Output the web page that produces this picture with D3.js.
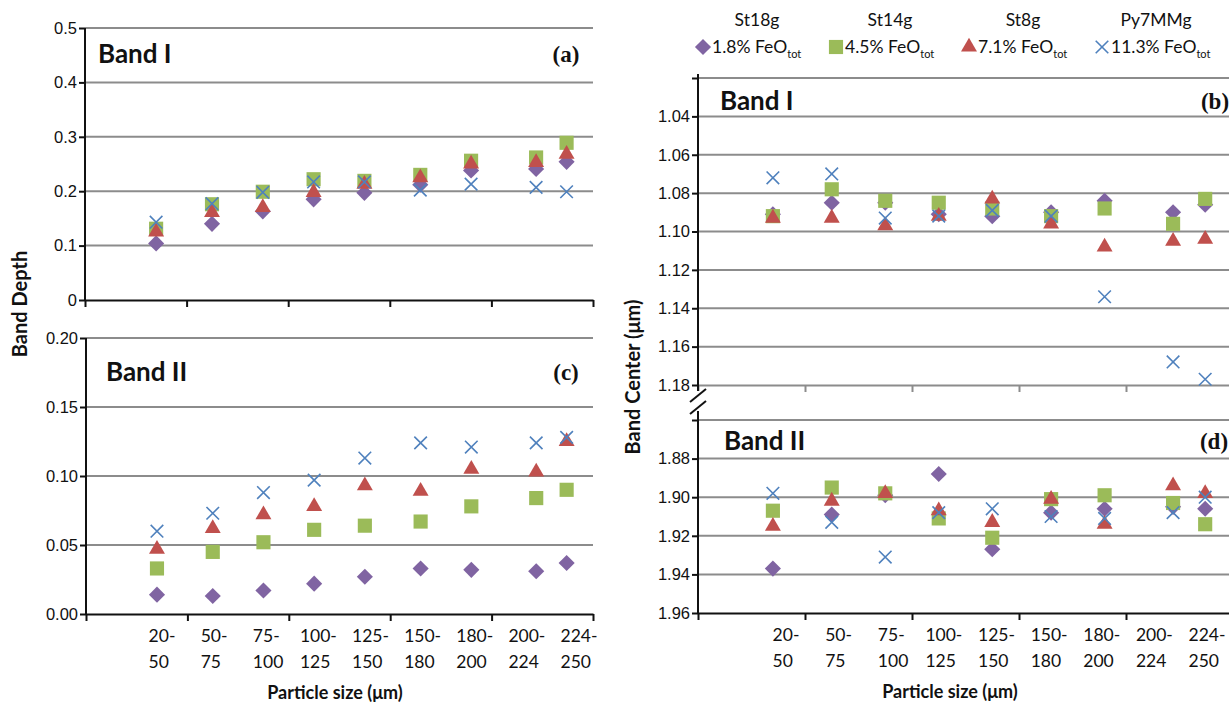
<!DOCTYPE html>
<html>
<head>
<meta charset="utf-8">
<script src="https://cdn.jsdelivr.net/npm/d3@7"></script>
<style>
  body { margin: 0; background: #fff; }
  svg { display: block; font-family: Lato, "Open Sans", sans-serif; }
</style>
</head>
<body>
<svg id="chart" width="1229" height="702"></svg>
<script>

// particle size classes (µm) and where each is plotted on the 0-250 axis
const sizeLabels = [["20-","50"],["50-","75"],["75-","100"],["100-","125"],["125-","150"],
                    ["150-","180"],["180-","200"],["200-","224"],["224-","250"]]
const sizeX  = [35, 62.5, 87.5, 112.5, 137.5, 165, 190, 222, 237]

const seriesNames = ["St18g", "St14g", "St8g", "Py7MMg"]
const feoLabels   = ["1.8%", "4.5%", "7.1%", "11.3%"]
const colors = ["#8064A2", "#9BBB59", "#C0504D", "#4F81BD"]
const shapes = ["diamond", "square", "triangle", "cross"]

// (a) Band I depth, one row per series
const bandIDepth = [
  [0.104, 0.140, 0.163, 0.185, 0.197, 0.212, 0.238, 0.241, 0.254],
  [0.131, 0.176, 0.199, 0.222, 0.219, 0.230, 0.256, 0.262, 0.289],
  [0.125, 0.161, 0.170, 0.198, 0.213, 0.225, 0.250, 0.253, 0.268],
  [0.143, 0.177, 0.198, 0.217, 0.217, 0.202, 0.213, 0.207, 0.199]
]
// (c) Band II depth
const bandIIDepth = [
  [0.014, 0.013, 0.017, 0.022, 0.027, 0.033, 0.032, 0.031, 0.037],
  [0.033, 0.045, 0.052, 0.061, 0.064, 0.067, 0.078, 0.084, 0.090],
  [0.047, 0.062, 0.072, 0.078, 0.093, 0.089, 0.105, 0.103, 0.125],
  [0.060, 0.073, 0.088, 0.097, 0.113, 0.124, 0.121, 0.124, 0.128]
]
// (b) Band I center (µm)
const bandICenter = [
  [1.091, 1.085, 1.085, 1.091, 1.092, 1.090, 1.084, 1.090, 1.086],
  [1.092, 1.078, 1.084, 1.085, 1.088, 1.092, 1.088, 1.096, 1.083],
  [1.093, 1.093, 1.097, 1.092, 1.083, 1.096, 1.108, 1.105, 1.104],
  [1.072, 1.070, 1.093, 1.092, 1.089, 1.092, 1.134, 1.168, 1.177]
]
// (d) Band II center (µm)
const bandIICenter = [
  [1.937, 1.909, 1.899, 1.888, 1.927, 1.908, 1.906, 1.905, 1.906],
  [1.907, 1.895, 1.898, 1.911, 1.921, 1.901, 1.899, 1.903, 1.914],
  [1.915, 1.902, 1.898, 1.907, 1.913, 1.901, 1.914, 1.894, 1.898],
  [1.898, 1.913, 1.931, 1.908, 1.906, 1.910, 1.911, 1.908, 1.900]
]

const svg = d3.select("#chart")
const ink = "#111"
const gridColor = "#8c8c8c"

function marker(shape) {
  if (shape === "diamond") return d3.symbol(d3.symbolSquare, 130)()
  if (shape === "square") return d3.symbol(d3.symbolSquare, 200)()
  if (shape === "triangle") return d3.symbol(d3.symbolTriangle, 110)()
  return d3.symbol(d3.symbolX, 105)()
}

function drawMarker(sel, i) {
  sel.attr("d", marker(shapes[i]))
  if (shapes[i] === "cross") {
    sel.attr("fill", "none").attr("stroke", colors[i]).attr("stroke-width", 1.6)
  } else {
    sel.attr("fill", colors[i])
  }
}

function panel(o) {
  const x = d3.scaleLinear().domain([0, 250]).range([o.left, o.right])
  const y = d3.scaleLinear().domain(o.yDomain)
    .range(o.reversed ? [o.top, o.bottom] : [o.bottom, o.top])
  const g = svg.append("g")

  g.selectAll("line.grid").data(o.grid).join("line")
    .attr("class", "grid")
    .attr("x1", o.left).attr("x2", o.right)
    .attr("y1", d => y(d)).attr("y2", d => y(d))
    .attr("stroke", gridColor).attr("stroke-width", 2)

  const ya = g.append("g").attr("transform", `translate(${o.left},0)`)
    .call(d3.axisLeft(y).tickValues(o.yTicks).tickFormat(o.fmt)
      .tickSize(6).tickSizeOuter(0).tickPadding(2))
  ya.select(".domain").remove()
  ya.selectAll(".tick line").attr("stroke", ink).attr("stroke-width", 2)
  ya.selectAll(".tick text").attr("fill", ink).attr("font-size", 16.5)

  const xa = g.append("g").attr("transform", `translate(0,${o.xAxisY})`)
    .call(d3.axisBottom(x).tickValues([0, 50, 100, 150, 200, 250])
      .tickFormat("").tickSize(7).tickSizeOuter(0))
  xa.select(".domain").attr("stroke", o.xAxisColor).attr("stroke-width", 2)
  xa.selectAll(".tick line").attr("stroke", o.xAxisColor).attr("stroke-width", 2)

  // y axis line
  g.append("line")
    .attr("x1", o.left).attr("x2", o.left)
    .attr("y1", o.axisTop).attr("y2", o.axisBottom)
    .attr("stroke", ink).attr("stroke-width", 2)

  o.data.forEach((vals, i) => {
    g.selectAll(null).data(vals).join("path")
      .attr("transform", (d, j) => `translate(${x(sizeX[j])},${y(d)})` +
        (shapes[i] === "diamond" ? " rotate(45)" : ""))
      .call(drawMarker, i)
  })

  g.append("text").attr("x", o.left + o.bandDx).attr("y", o.top + o.bandDy)
    .attr("font-size", 26).attr("font-weight", 700).attr("fill", ink)
    .text(o.band)
  g.append("text").attr("x", o.tagX).attr("y", o.top + o.bandDy - 1)
    .attr("text-anchor", "middle")
    .attr("font-family", "Liberation Serif, serif").attr("font-weight", 700)
    .attr("font-size", 23).attr("fill", ink)
    .text(o.tag)

  if (o.labelRange) {
    // size class labels sit evenly spaced under the axis, second line left-aligned to the first
    const lx = d3.scalePoint().domain(d3.range(sizeLabels.length)).range(o.labelRange)
    sizeLabels.forEach((d, j) => {
      const t1 = g.append("text").attr("x", lx(j)).attr("y", o.xAxisY + 28)
        .attr("text-anchor", "middle").attr("font-size", 17.5).attr("fill", ink).text(d[0])
      const w = t1.node().getComputedTextLength()
      g.append("text").attr("x", lx(j) - w / 2).attr("y", o.xAxisY + 54)
        .attr("font-size", 17.5).attr("fill", ink).text(d[1])
    })
    g.append("text").attr("x", o.titleX).attr("y", o.xAxisY + 85)
      .attr("text-anchor", "middle").attr("font-size", 18).attr("font-weight", 700)
      .attr("fill", ink).text("Particle size (\u03bcm)")
  }
}

const f1 = v => v === 0 ? "0" : d3.format(".1f")(v)
const f2 = d3.format(".2f")

panel({ left: 85, right: 593, top: 28, bottom: 300, xAxisY: 300, xAxisColor: ink,
  axisTop: 28, axisBottom: 300,
  yDomain: [0, 0.5], yTicks: [0, 0.1, 0.2, 0.3, 0.4, 0.5], grid: [0.1, 0.2, 0.3, 0.4, 0.5],
  fmt: f1, data: bandIDepth, band: "Band I", tag: "(a)", tagX: 566, bandDx: 13, bandDy: 35 })

panel({ left: 86, right: 593, top: 338, bottom: 614, xAxisY: 614, xAxisColor: ink,
  axisTop: 338, axisBottom: 614,
  yDomain: [0, 0.2], yTicks: [0, 0.05, 0.1, 0.15, 0.2], grid: [0.05, 0.1, 0.15, 0.2],
  fmt: f2, data: bandIIDepth, band: "Band II", tag: "(c)", tagX: 566, bandDx: 20, bandDy: 43,
  labelRange: [162, 579], titleX: 335 })

panel({ left: 698, right: 1233, top: 78, bottom: 385, xAxisY: 385, xAxisColor: gridColor,
  axisTop: 74, axisBottom: 420, reversed: true,
  yDomain: [1.02, 1.18], yTicks: d3.range(1.02, 1.181, 0.02), grid: d3.range(1.02, 1.17, 0.02),
  fmt: v => v < 1.03 ? "" : f2(v), data: bandICenter, band: "Band I", tag: "(b)", tagX: 1215,
  bandDx: 22, bandDy: 32 })

panel({ left: 698, right: 1233, top: 420, bottom: 613, xAxisY: 613, xAxisColor: ink,
  axisTop: 385, axisBottom: 613, reversed: true,
  yDomain: [1.86, 1.96], yTicks: d3.range(1.86, 1.961, 0.02), grid: d3.range(1.86, 1.95, 0.02),
  fmt: v => v < 1.87 ? "" : f2(v), data: bandIICenter, band: "Band II", tag: "(d)", tagX: 1214,
  bandDx: 26, bandDy: 30, labelRange: [786, 1207], titleX: 950 })

// axis break between (b) and (d)
svg.append("rect").attr("x", 690).attr("y", 391).attr("width", 16).attr("height", 20).attr("fill", "#fff")
;[[392, 399], [404, 411]].forEach(([a, b]) => {
  svg.append("line").attr("x1", 690).attr("y1", b + 3).attr("x2", 706).attr("y2", a - 3)
    .attr("stroke", ink).attr("stroke-width", 2)
})

// y axis titles
svg.append("text").attr("transform", "translate(27,304) rotate(-90)")
  .attr("text-anchor", "middle").attr("font-size", 20).attr("font-weight", 700).attr("fill", ink)
  .text("Band Depth")
svg.append("text").attr("transform", "translate(640,377) rotate(-90)")
  .attr("text-anchor", "middle").attr("font-size", 20).attr("font-weight", 700).attr("fill", ink)
  .text("Band Center (\u03bcm)")

// legend
const lg = svg.append("g")
seriesNames.forEach((name, i) => {
  const mx = 703 + i * 133
  lg.append("text").attr("x", mx + 54).attr("y", 26).attr("text-anchor", "middle")
    .attr("font-size", 17.5).attr("fill", ink).text(name)
  lg.append("path")
    .attr("transform", `translate(${mx},${47})` + (shapes[i] === "diamond" ? " rotate(45)" : ""))
    .call(drawMarker, i)
  const t = lg.append("text").attr("x", mx + 9).attr("y", 53).attr("font-size", 17.5).attr("fill", ink)
  t.append("tspan").text(feoLabels[i] + " FeO")
  t.append("tspan").attr("font-size", 11).attr("dy", 5).text("tot")
})

</script>
</body>
</html>
